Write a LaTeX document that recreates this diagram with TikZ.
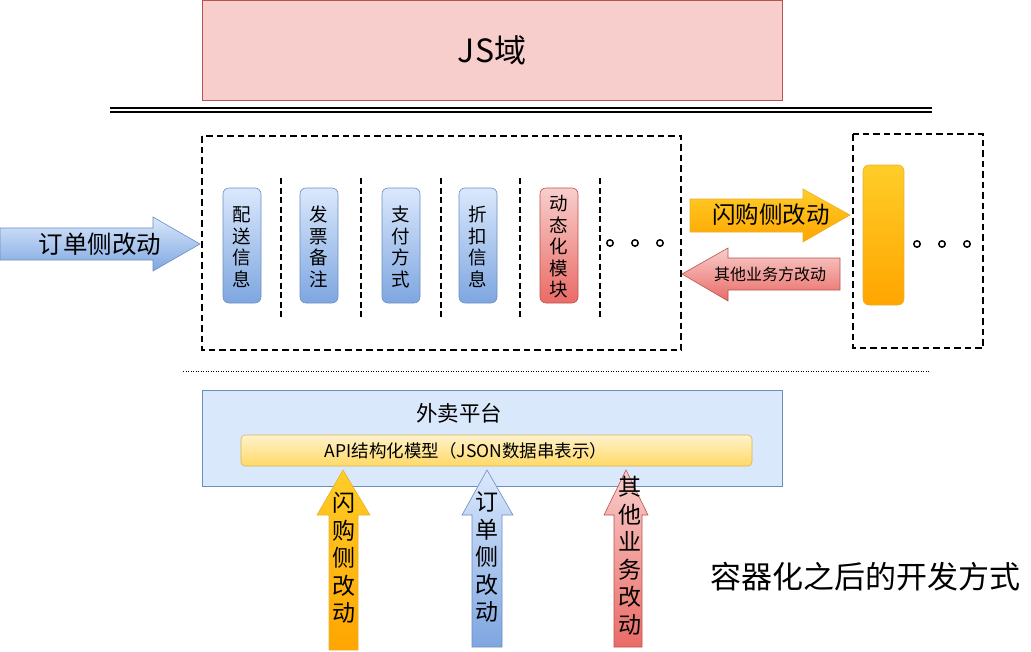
\documentclass[tikz,border=0pt]{standalone}
\usepackage{fontspec}
\setmainfont{Noto Sans CJK SC}
\definecolor{jsfill}{HTML}{F8CECC}
\definecolor{jsdraw}{HTML}{B85450}
\definecolor{bluetop}{HTML}{DAE8FC}
\definecolor{bluebot}{HTML}{7EA6E0}
\definecolor{bluedraw}{HTML}{6C8EBF}
\definecolor{redtop}{HTML}{F8CECC}
\definecolor{redbot}{HTML}{EA6B66}
\definecolor{orgtop}{HTML}{FFCD28}
\definecolor{orgbot}{HTML}{FFA500}
\definecolor{orgdraw}{HTML}{E8B030}
\definecolor{yeltop}{HTML}{FFF2CC}
\definecolor{yelbot}{HTML}{FFD966}
\definecolor{yeldraw}{HTML}{D6B656}
\begin{document}
\begin{tikzpicture}[x=1pt,y=-1pt,
  dashbox/.style={draw=black,line width=2pt,dash pattern=on 6.5pt off 4pt},
  sepline/.style={draw=black,line width=2pt,dash pattern=on 6pt off 3.5pt},
  modbox/.style={rounded corners=6pt,line width=0.6pt},
  bluegrad/.style={top color=bluetop,bottom color=bluebot,draw=bluedraw},
  redgrad/.style={top color=redtop,bottom color=redbot,draw=jsdraw},
  orggrad/.style={top color=orgtop,bottom color=orgbot,draw=orgdraw},
  modtext/.style={font=\fontsize{18.5}{21.5}\selectfont,align=center,inner sep=0pt},
  vtext/.style={font=\fontsize{23}{27.5}\selectfont,align=center,inner sep=0pt},
  dot/.style={draw=black,line width=1.5pt,fill=white},
  arrowline/.style={line width=0.6pt}
]
\useasboundingbox (0,0) rectangle (1031,651);
% JS domain
\path[fill=jsfill,draw=jsdraw,line width=0.8pt] (202,0) rectangle (782,100);
\node[font=\fontsize{32}{34}\selectfont] (js) at (492,50) {JS域};
% double line
\draw[line width=1.2pt] (110,108) -- (932,108);
\draw[line width=1.2pt] (110,112) -- (932,112);
% main dashed box
\path[dashbox] (202,136) rectangle (681,350);
\foreach \xx in {281,361,441,520,600}
  \path[sepline] (\xx,178) -- (\xx,317);
% modules
\path[modbox,bluegrad] (223,188) rectangle (261,303);
\node[modtext] (m1) at (242,247) {配\\送\\信\\息};
\path[modbox,bluegrad] (300,188) rectangle (338,303);
\node[modtext] (m2) at (319,247) {发\\票\\备\\注};
\path[modbox,bluegrad] (382,188) rectangle (420,303);
\node[modtext] (m3) at (401,247) {支\\付\\方\\式};
\path[modbox,bluegrad] (459,188) rectangle (497,303);
\node[modtext] (m4) at (478,247) {折\\扣\\信\\息};
\path[modbox,redgrad] (540,188) rectangle (578,303);
\node[modtext] (m5) at (559,247) {动\\态\\化\\模\\块};
\foreach \xx in {610,635,660} \path[dot] (\xx,243) circle (3.2pt);
% right dashed box
\path[dashbox] (853,134) rectangle (983,348);
\path[modbox,orggrad] (863,165) rectangle (904,305);
\foreach \xx in {917,942,967} \path[dot] (\xx,244) circle (3.2pt);
% left arrow
\path[arrowline,bluegrad] (0,228) -- (153,228) -- (153,217) -- (200,244) -- (153,271) -- (153,260) -- (0,260) -- cycle;
\node[font=\fontsize{24.5}{26}\selectfont] (a1) at (100,244) {订单侧改动};
% flash arrow
\path[arrowline,orggrad] (690,199) -- (803,199) -- (803,189) -- (850,215) -- (803,242) -- (803,232) -- (690,232) -- cycle;
\node[font=\fontsize{23.5}{25}\selectfont] (a2) at (771,215) {闪购侧改动};
% other arrow
\path[arrowline,redgrad] (840,258) -- (728,258) -- (728,248) -- (682,274) -- (728,301) -- (728,290) -- (840,290) -- cycle;
\node[font=\fontsize{16}{18}\selectfont] (a3) at (770,274) {其他业务方改动};
% dotted separator
\draw[line width=0.8pt,dash pattern=on 1pt off 1.5pt] (183,371) -- (930,371);
% platform
\path[fill=bluetop,draw=bluedraw,line width=0.8pt] (202,390) rectangle (782,486);
\node[font=\fontsize{21.5}{23}\selectfont] (pf) at (459,413) {外卖平台};
\path[rounded corners=4pt,top color=yeltop,bottom color=yelbot,draw=yeldraw,line width=0.6pt] (241,435) rectangle (752,466);
\node[font=\fontsize{17.5}{19}\selectfont] (api) at (466,451) {API结构化模型（JSON数据串表示）};
% up arrows
\path[arrowline,orggrad] (343,470) -- (370,515) -- (358,515) -- (358,650) -- (329,650) -- (329,515) -- (317,515) -- cycle;
\node[vtext] (u1) at (344,558) {闪\\购\\侧\\改\\动};
\path[arrowline,bluegrad] (487,470) -- (513,515) -- (502,515) -- (502,647) -- (472,647) -- (472,515) -- (462,515) -- cycle;
\node[vtext] (u2) at (487,557) {订\\单\\侧\\改\\动};
\path[arrowline,redgrad] (626,470) -- (648,515) -- (642,515) -- (642,647) -- (614,647) -- (614,515) -- (604,515) -- cycle;
\node[vtext] (u3) at (630,556) {其\\他\\业\\务\\改\\动};
% caption
\node[font=\fontsize{31}{33}\selectfont] (cap) at (865,577) {容器化之后的开发方式};
\end{tikzpicture}
\end{document}
